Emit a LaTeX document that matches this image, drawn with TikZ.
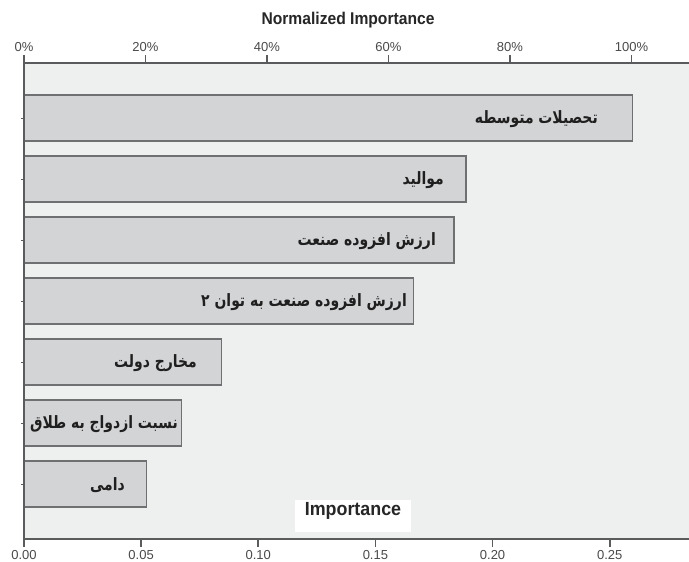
\documentclass[tikz,border=0pt]{standalone}
\usepackage{fontspec}
\usepackage{graphicx}
\setmainfont{Liberation Sans}
\newfontfamily\arabicfont[Script=Arabic]{DejaVu Sans}
\TeXXeTstate=1
\definecolor{plotbg}{HTML}{EEF0EF}
\definecolor{barfill}{HTML}{D3D4D6}
\definecolor{barline}{HTML}{6F7072}
\definecolor{axisc}{HTML}{5A5B5D}
\definecolor{ticktext}{HTML}{4A4A4A}
\newcommand{\fa}[1]{\scalebox{0.82}[1]{\arabicfont\bfseries\fontsize{17}{17}\selectfont\beginR #1\endR}}
\tikzset{
  barbox/.style={draw=barline, fill=barfill, line width=1.4pt, inner sep=0pt, outer sep=0pt,
    minimum height=46pt, anchor=north west, rectangle},
  barlabel/.style={anchor=east, inner sep=0pt, text=black!88},
  axisline/.style={draw=axisc, line width=1.6pt},
  ticklabel/.style={inner sep=0pt, text=ticktext, font=\fontsize{13}{13}\selectfont},
}
\begin{document}
\begin{tikzpicture}[x=1pt,y=-1pt]
\useasboundingbox (0,0) rectangle (689,562);
\fill[white] (0,0) rectangle (689,562);
\fill[plotbg] (24,63) rectangle (689,539);
% bars
\node[barbox, minimum width=608.7pt] (b1) at (24,95) {};
\node[barbox, minimum width=442pt] (b2) at (24,156) {};
\node[barbox, minimum width=430pt] (b3) at (24,217) {};
\node[barbox, minimum width=389.3pt] (b4) at (24,278) {};
\node[barbox, minimum width=197.3pt] (b5) at (24,339) {};
\node[barbox, minimum width=157.7pt] (b6) at (24,400) {};
\node[barbox, minimum width=122.7pt] (b7) at (24,461) {};
% labels
\node[barlabel] (l1) at (598,119) {\fa{تحصیلات متوسطه}};
\node[barlabel] (l2) at (444,180) {\fa{موالید}};
\node[barlabel] (l3) at (436,241) {\fa{ارزش افزوده صنعت}};
\node[barlabel] (l4) at (407,302) {\fa{ارزش افزوده صنعت به توان ۲}};
\node[barlabel] (l5) at (197,363) {\fa{مخارج دولت}};
\node[barlabel] (l6) at (178,424) {\fa{نسبت ازدواج به طلاق}};
\node[barlabel] (l7) at (125,485) {\fa{دامی}};
% axes
\draw[axisline] (24,63) -- (689,63);
\draw[axisline] (24,539) -- (689,539);
\draw[axisline] (24,55) -- (24,547);
\foreach \i/\t in {0/0\%,1/20\%,2/40\%,3/60\%,4/80\%,5/100\%}{
  \draw[axisline] ({24+121.5*\i},63) -- ({24+121.5*\i},55);
  \node[ticklabel] (top\i) at ({24+121.5*\i},47) {\t};
}
\foreach \i/\t in {0/0.00,1/0.05,2/0.10,3/0.15,4/0.20,5/0.25}{
  \draw[axisline] ({24+117.14*\i},539) -- ({24+117.14*\i},547);
  \node[ticklabel, anchor=north] (bot\i) at ({24+117.14*\i},550) {\t};
}
\foreach \y in {118,179,240,301,362,423,484}{
  \draw[draw=axisc, line width=1pt] (24,\y) -- (21,\y);
}
% title
\node[inner sep=0pt, text=black!85] (title) at (348,20)
  {\scalebox{0.92}[1]{\fontsize{17}{17}\selectfont\bfseries Normalized Importance}};
% legend
\node[fill=white, minimum width=116pt, minimum height=32pt, inner sep=0pt, anchor=north west] (legbox) at (295,500) {};
\node[inner sep=0pt, text=black!85] (leg) at (353,511)
  {\scalebox{0.94}[1]{\fontsize{19}{19}\selectfont\bfseries Importance}};
\end{tikzpicture}
\end{document}
